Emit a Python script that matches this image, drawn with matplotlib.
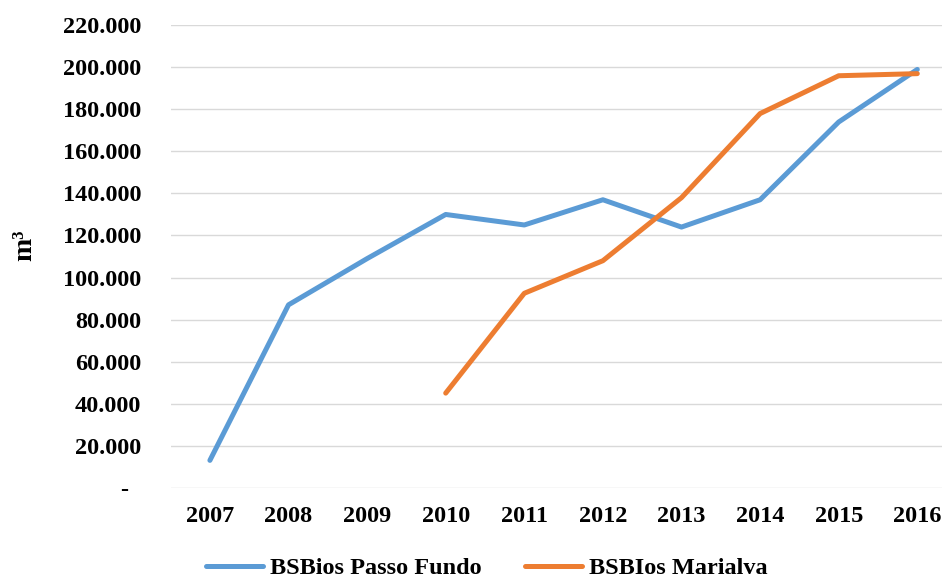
import matplotlib
matplotlib.use("Agg")
import matplotlib.pyplot as plt

# Annual volumes (m³) per plant
years = ["2007", "2008", "2009", "2010", "2011", "2012", "2013", "2014", "2015", "2016"]
passo_fundo = [13000, 87000, 109000, 130000, 125000, 137000, 124000, 137000, 174000, 199000]
marialva_years = ["2010", "2011", "2012", "2013", "2014", "2015", "2016"]
marialva = [45000, 92500, 108000, 138000, 178000, 196000, 197000]

y_ticks = [0, 20000, 40000, 60000, 80000, 100000, 120000, 140000, 160000, 180000, 200000, 220000]
y_tick_labels = ["-  ", "20.000", "40.000", "60.000", "80.000", "100.000", "120.000",
                 "140.000", "160.000", "180.000", "200.000", "220.000"]

plt.rcParams["font.family"] = ["Liberation Serif", "DejaVu Serif"]
plt.rcParams["font.weight"] = "bold"

W, H = 942, 582
fig = plt.figure(figsize=(W / 100, H / 100), dpi=100)

# plot area in pixels
left_px, right_px = 170.6, 942
top_px, bottom_px = 25.3, 487.7
ax = fig.add_axes([left_px / W, 1 - bottom_px / H, (right_px - left_px) / W, (bottom_px - top_px) / H])

x_pf = list(range(len(years)))
x_ma = [years.index(y) for y in marialva_years]

blue = "#5B9BD5"
orange = "#ED7D31"
ax.plot(x_pf, passo_fundo, color=blue, lw=3.6, solid_capstyle="round", solid_joinstyle="round",
        label="BSBios Passo Fundo", zorder=3)
ax.plot(x_ma, marialva, color=orange, lw=3.6, solid_capstyle="round", solid_joinstyle="round",
        label="BSBIos Marialva", zorder=3)

spacing = 78.6
ax.set_xlim(-0.5, -0.5 + (right_px - left_px) / spacing)
ax.set_ylim(0, 220000)

ax.set_xticks(x_pf)
ax.set_xticklabels(years)
ax.set_yticks(y_ticks)
ax.set_yticklabels(y_tick_labels)

fs = 17.5
for s in ax.spines.values():
    s.set_visible(False)
ax.tick_params(axis="both", length=0, labelsize=fs, colors="black")
ax.tick_params(axis="y", pad=21)
ax.tick_params(axis="x", pad=13)
ax.yaxis.grid(True, color="#D9D9D9", lw=1.0)
ax.set_axisbelow(True)

fig.text(25 / W, 1 - 245 / H, "m³", rotation=90, fontsize=20, fontweight="bold",
         ha="center", va="center")

fig.legend(loc="center", bbox_to_anchor=(487 / W, 1 - 568 / H), ncol=2, frameon=False,
           fontsize=fs, handlelength=2.35, handletextpad=0.28, columnspacing=1.8,
           borderpad=0, borderaxespad=0)

fig.savefig("out.png", dpi=100)
